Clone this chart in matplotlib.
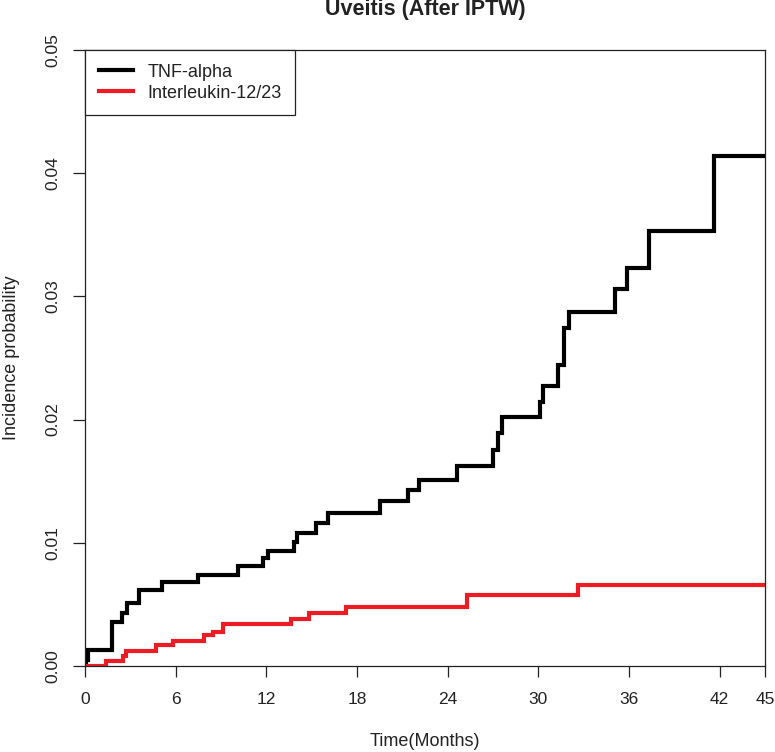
import matplotlib
matplotlib.use("Agg")
import matplotlib.pyplot as plt

plt.rcParams['font.family'] = ['Liberation Sans', 'DejaVu Sans']

# TNF-alpha cumulative incidence (step function)
tnf_time = [0, 0.05, 0.2, 1.8, 2.45, 2.8, 3.6, 5.1, 7.5, 10.1, 11.8, 12.1, 13.8, 14.05,
            15.3, 16.1, 19.5, 21.4, 22.1, 24.6, 27.0, 27.3, 27.6, 30.1, 30.3, 31.3,
            31.7, 32.0, 35.1, 35.9, 37.3, 41.6, 45]
tnf_prob = [0, 0.0005, 0.0013, 0.0036, 0.0043, 0.0051, 0.0062, 0.0068, 0.0074, 0.0081,
            0.0088, 0.0093, 0.0101, 0.0108, 0.0116, 0.0124, 0.0134, 0.0143, 0.0151,
            0.0162, 0.0175, 0.0189, 0.0202, 0.0214, 0.0227, 0.0244, 0.0274, 0.0287,
            0.0306, 0.0323, 0.0353, 0.0414, 0.0414]

# Interleukin-12/23 cumulative incidence (step function)
il_time = [0, 1.4, 2.5, 2.7, 4.7, 5.8, 7.9, 8.5, 9.1, 13.6, 14.8, 17.3, 25.3, 32.6, 45]
il_prob = [0, 0.0004, 0.0008, 0.0012, 0.0017, 0.0020, 0.0025, 0.0028, 0.0034, 0.0038,
           0.0043, 0.0048, 0.0058, 0.0066, 0.0066]

x_ticks = [0, 6, 12, 18, 24, 30, 36, 42, 45]
y_ticks = [0.00, 0.01, 0.02, 0.03, 0.04, 0.05]
y_tick_labels = ["0.00", "0.01", "0.02", "0.03", "0.04", "0.05"]

W, H = 775, 752
fig = plt.figure(figsize=(W / 100, H / 100), dpi=100)
ax = fig.add_axes([85 / W, 1 - 666 / H, 680 / W, 616 / H])

ax.step(tnf_time, tnf_prob, where='post', color='black', lw=3.0, label='TNF-alpha',
        solid_joinstyle='miter')
ax.step(il_time, il_prob, where='post', color='#ED1C24', lw=3.0, label='Interleukin-12/23',
        solid_joinstyle='miter')

ax.set_xlim(0, 45)
ax.set_ylim(0, 0.05)
ax.set_xticks(x_ticks)
ax.set_xticklabels([str(v) for v in x_ticks], fontsize=12.5)
ax.set_yticks(y_ticks)
ax.set_yticklabels(y_tick_labels, fontsize=12.5, rotation=90, va='center')
ax.tick_params(axis='x', length=8, width=0.9, pad=11, colors='#222222', labelcolor='#222222')
ax.tick_params(axis='y', length=8.5, width=0.9, pad=9, colors='#222222', labelcolor='#222222')
for s in ax.spines.values():
    s.set_linewidth(0.9)
    s.set_color('#222222')

fig.text(425 / W, 1 - 742 / H, "Time(Months)", ha='center', va='center', fontsize=13,
         color='#222222')
fig.text(12 / W, 1 - 358 / H, "Incidence probability", ha='center', va='center',
         rotation=90, fontsize=13, color='#222222')
fig.text(425 / W, 1 - 15 / H, "Uveitis (After IPTW)", ha='center', va='baseline',
         fontsize=15.5, fontweight='bold', color='#222222')

leg = ax.legend(loc='upper left', borderaxespad=0, fancybox=False, fontsize=13,
                handlelength=1.9, handletextpad=0.8, borderpad=0.75, labelspacing=0.22,
                framealpha=1)
leg.get_frame().set_edgecolor('#222222')
leg.get_frame().set_linewidth(0.9)
for t in leg.get_texts():
    t.set_color('#222222')

fig.savefig("out.png", dpi=100)
